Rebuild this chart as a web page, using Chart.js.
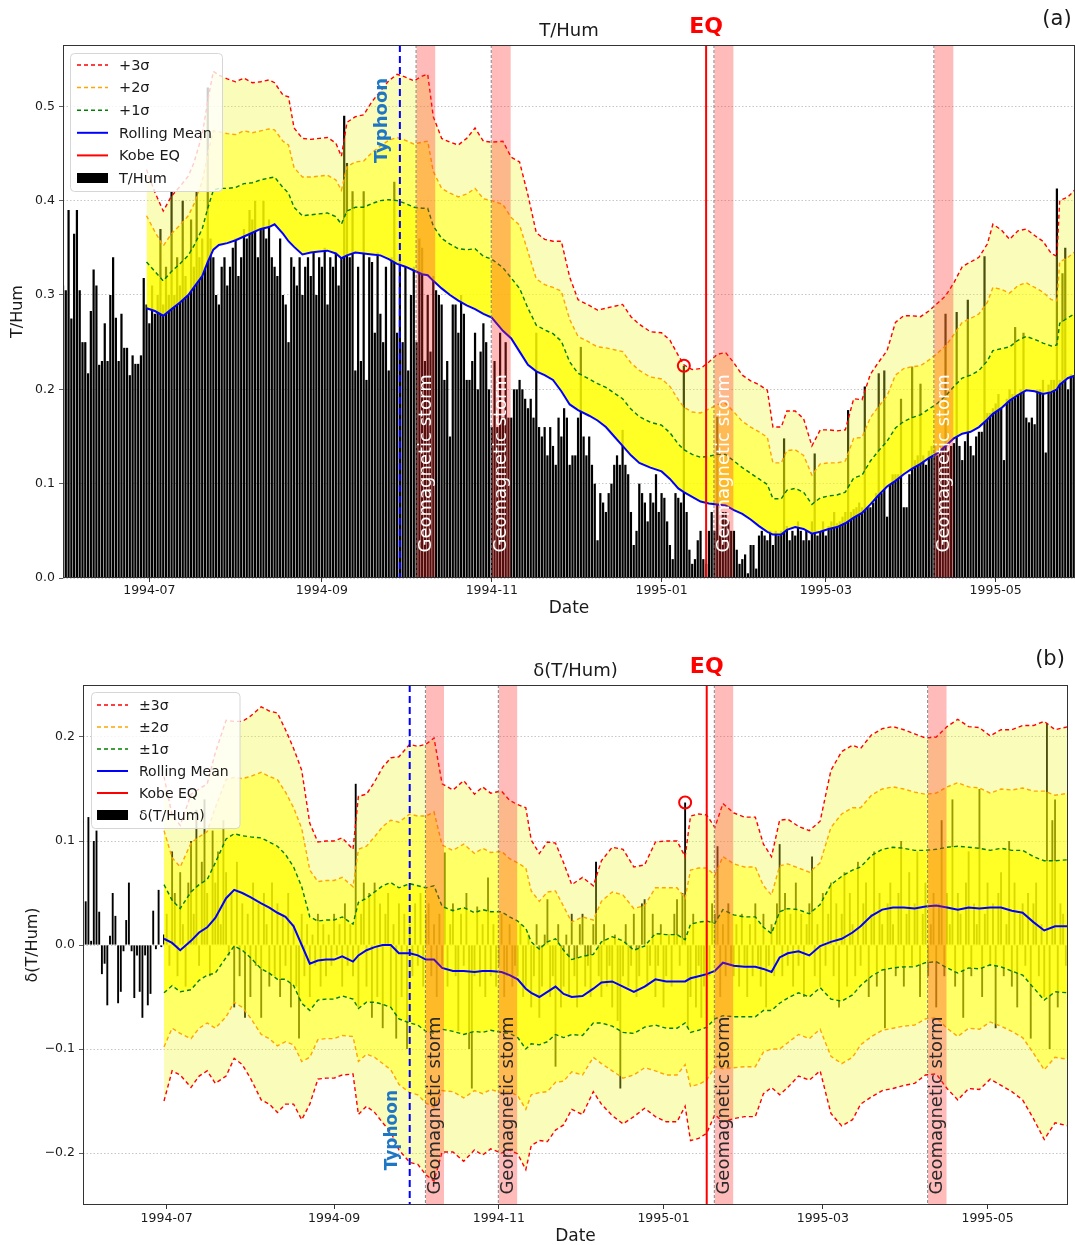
<!DOCTYPE html>
<html>
<head>
<meta charset="utf-8">
<script src="https://cdn.jsdelivr.net/npm/chart.js@4.4.0/dist/chart.umd.min.js"></script>
<style>
  body { margin: 0; background: #fff; }
  #wrap { position: relative; width: 1075px; height: 1245px; }
  canvas { position: absolute; left: 0; }
</style>
</head>
<body>
<div id="wrap">
  <canvas id="chartA" width="1075" height="625" style="top:0"></canvas>
  <canvas id="chartB" width="1075" height="620" style="top:625px"></canvas>
</div>
<script>
// day index 0 = 1994-05-31
var xTickIdx = [31, 93, 154, 215, 274, 335];
var xTickLabels = ["1994-07", "1994-09", "1994-11", "1995-01", "1995-03", "1995-05"];
var yTicksT = [0, 0.1, 0.2, 0.3, 0.4, 0.5];
var yTicksD = [-0.2, -0.1, 0, 0.1, 0.2];
var eqIdx = 231;       // Kobe EQ 1995-01-17
var typhoonIdx = 121;  // 1994-09-29
var markIdx = 223;     // circled value
var stormStart = [127, 154, 234, 313];
var stormEnd = [133.7, 160.8, 240.8, 319.8];
var legendT = ["+3σ", "+2σ", "+1σ", "Rolling Mean", "Kobe EQ", "T/Hum"];
var legendD = ["±3σ", "±2σ", "±1σ", "Rolling Mean", "Kobe EQ", "δ(T/Hum)"];

// (a) daily T/Hum
var barsT = [
  0.31, 0.305, 0.39, 0.275, 0.365, 0.39, 0.305, 0.25, 0.25, 0.217,
  0.283, 0.327, 0.31, 0.226, 0.23, 0.27, 0.23, 0.30, 0.34, 0.276,
  0.23, 0.28, 0.244, 0.244, 0.215, 0.236, 0.227, 0.227, 0.236, 0.318,
  0.29, 0.27, 0.31, 0.28, 0.30, 0.37, 0.29, 0.33, 0.30, 0.41,
  0.30, 0.34, 0.31, 0.40, 0.32, 0.30, 0.38, 0.33, 0.41, 0.34,
  0.36, 0.33, 0.52, 0.36, 0.34, 0.30, 0.29, 0.33, 0.34, 0.31,
  0.33, 0.35, 0.36, 0.32, 0.34, 0.37, 0.36, 0.39, 0.38, 0.40,
  0.34, 0.37, 0.40, 0.36, 0.38, 0.34, 0.33, 0.32, 0.36, 0.30,
  0.29, 0.25, 0.34, 0.33, 0.31, 0.34, 0.30, 0.33, 0.34, 0.32,
  0.345, 0.30, 0.34, 0.33, 0.35, 0.29, 0.34, 0.33, 0.345, 0.31,
  0.34, 0.49, 0.44, 0.34, 0.41, 0.22, 0.33, 0.23, 0.41, 0.21,
  0.34, 0.335, 0.26, 0.345, 0.28, 0.25, 0.33, 0.22, 0.34, 0.42,
  0.26, 0.34, 0.25, 0.33, 0.22, 0.30, 0.33, 0.25, 0.36, 0.35,
  0.23, 0.30, 0.24, 0.32, 0.305, 0.30, 0.29, 0.21, 0.23, 0.15,
  0.29, 0.29, 0.26, 0.30, 0.28, 0.21, 0.21, 0.23, 0.26, 0.20,
  0.24, 0.27, 0.25, 0.20, 0.16, 0.23, 0.16, 0.26, 0.17, 0.25,
  0.17, 0.17, 0.20, 0.20, 0.21, 0.20, 0.19, 0.18, 0.19, 0.17,
  0.26, 0.16, 0.15, 0.16, 0.13, 0.16, 0.14, 0.12, 0.17, 0.15,
  0.18, 0.17, 0.12, 0.13, 0.13, 0.17, 0.245, 0.15, 0.13, 0.15,
  0.12, 0.10, 0.04, 0.09, 0.08, 0.07, 0.09, 0.10, 0.12, 0.13,
  0.12, 0.157, 0.12, 0.11, 0.07, 0.035, 0.05, 0.10, 0.09, 0.08,
  0.06, 0.09, 0.08, 0.11, 0.07, 0.09, 0.085, 0.06, 0.035, 0.02,
  0.09, 0.085, 0.08, 0.225, 0.07, 0.03, 0.015, 0.02, 0.04, 0.05,
  0.02, 0.015, 0.05, 0.07, 0.05, 0.171, 0.045, 0.07, 0.07, 0.06,
  0.05, 0.05, 0.03, 0.015, 0.02, 0.025, 0.005, 0.035, 0.035, 0.01,
  0.045, 0.05, 0.045, 0.04, 0.05, 0.035, 0.05, 0.045, 0.05, 0.148,
  0.055, 0.04, 0.05, 0.045, 0.06, 0.05, 0.04, 0.05, 0.04, 0.06,
  0.132, 0.045, 0.05, 0.06, 0.045, 0.055, 0.06, 0.07, 0.058, 0.06,
  0.065, 0.07, 0.178, 0.07, 0.073, 0.075, 0.08, 0.075, 0.203, 0.075,
  0.075, 0.08, 0.09, 0.217, 0.09, 0.22, 0.065, 0.10, 0.11, 0.11,
  0.11, 0.19, 0.075, 0.075, 0.11, 0.224, 0.125, 0.13, 0.206, 0.13,
  0.12, 0.135, 0.14, 0.14, 0.13, 0.14, 0.14, 0.28, 0.135, 0.14,
  0.143, 0.282, 0.14, 0.125, 0.145, 0.295, 0.14, 0.13, 0.15, 0.155,
  0.155, 0.341, 0.175, 0.175, 0.18, 0.185, 0.195, 0.18, 0.125, 0.19,
  0.20, 0.195, 0.266, 0.195, 0.20, 0.26, 0.17, 0.165, 0.17, 0.163,
  0.20, 0.20, 0.21, 0.133, 0.205, 0.21, 0.21, 0.413, 0.21, 0.323,
  0.35, 0.20, 0.216, 0.215, 0.21
];

// (a) 30-day rolling mean and sigma, read at these day indices
var sampT = [30, 33, 36, 39, 42, 45, 47, 50, 52, 54, 56, 59, 62, 65, 68, 71, 74, 76, 79, 81,
  83, 86, 89, 92, 95, 98, 100, 102, 105, 108, 111, 114, 117, 120, 123, 126, 129, 131, 133, 136,
  139, 142, 145, 148, 151, 154, 158, 161, 164, 167, 170, 173, 176, 179, 182, 185, 189, 192, 195, 198,
  201, 204, 207, 211, 215, 218, 221, 223, 226, 229, 232, 235, 238, 241, 244, 247, 250, 253, 255, 258,
  260, 263, 266, 269, 272, 275, 278, 281, 284, 287, 290, 293, 296, 299, 302, 305, 308, 311, 314, 317,
  320, 323, 326, 329, 332, 334, 337, 340, 343, 346, 349, 352, 355, 357, 358, 361, 364];
var meanT = [0.286, 0.283, 0.278, 0.285, 0.292, 0.300, 0.308, 0.320, 0.335, 0.348, 0.353, 0.355, 0.358, 0.362, 0.366, 0.370, 0.372, 0.375, 0.365, 0.357,
  0.351, 0.343, 0.345, 0.346, 0.347, 0.344, 0.339, 0.342, 0.345, 0.344, 0.343, 0.342, 0.338, 0.333, 0.330, 0.326, 0.322, 0.321, 0.315, 0.307,
  0.300, 0.294, 0.289, 0.285, 0.280, 0.276, 0.262, 0.254, 0.240, 0.226, 0.219, 0.215, 0.210, 0.198, 0.184, 0.178, 0.172, 0.167, 0.160, 0.150,
  0.140, 0.130, 0.122, 0.117, 0.113, 0.105, 0.095, 0.091, 0.086, 0.081, 0.079, 0.078, 0.077, 0.072, 0.068, 0.062, 0.055, 0.049, 0.046, 0.046,
  0.051, 0.054, 0.052, 0.047, 0.049, 0.052, 0.054, 0.058, 0.064, 0.069, 0.078, 0.088, 0.097, 0.103, 0.110, 0.116, 0.121, 0.127, 0.132, 0.140,
  0.148, 0.153, 0.155, 0.160, 0.168, 0.174, 0.180, 0.188, 0.194, 0.199, 0.198, 0.195, 0.197, 0.200, 0.205, 0.212, 0.215];
var sigT = [0.049, 0.042, 0.037, 0.040, 0.041, 0.042, 0.044, 0.050, 0.057, 0.063, 0.060, 0.058, 0.056, 0.056, 0.053, 0.052, 0.052, 0.050, 0.049, 0.051,
  0.042, 0.041, 0.040, 0.040, 0.040, 0.039, 0.036, 0.047, 0.048, 0.049, 0.054, 0.058, 0.063, 0.067, 0.067, 0.067, 0.070, 0.071, 0.058, 0.053,
  0.054, 0.055, 0.059, 0.064, 0.061, 0.062, 0.067, 0.064, 0.067, 0.060, 0.049, 0.048, 0.049, 0.053, 0.045, 0.039, 0.039, 0.039, 0.042, 0.046,
  0.050, 0.049, 0.049, 0.048, 0.049, 0.049, 0.047, 0.045, 0.045, 0.047, 0.050, 0.053, 0.054, 0.052, 0.049, 0.049, 0.050, 0.050, 0.038, 0.038,
  0.042, 0.041, 0.039, 0.031, 0.036, 0.035, 0.034, 0.033, 0.042, 0.040, 0.046, 0.047, 0.048, 0.056, 0.056, 0.054, 0.052, 0.052, 0.053, 0.053,
  0.055, 0.059, 0.060, 0.060, 0.062, 0.067, 0.063, 0.057, 0.058, 0.057, 0.055, 0.054, 0.049, 0.047, 0.065, 0.064, 0.066];

// (b) daily change δ(T/Hum)
var barsD = [
  0.053, 0.042, 0.123, 0.004, 0.100, 0.110, 0.032, -0.028, -0.018, -0.058,
  0.009, 0.050, 0.028, -0.056, -0.045, -0.006, 0.024, 0.060, -0.006, -0.051,
  -0.010, -0.045, -0.070, -0.010, -0.058, -0.047, 0.033, -0.004, 0.053, -0.002,
  0.010,
  0.03, -0.02, 0.09, 0.05, -0.03, 0.07, 0.02, -0.04, 0.06, 0.10,
  0.03, 0.13, -0.02, 0.08, 0.14, 0.05, -0.03, 0.11, 0.06, 0.09,
  0.02, 0.12, 0.07, -0.01, 0.05, -0.06, 0.08, -0.03, 0.04, -0.07,
  0.03, -0.05, 0.06, -0.02, 0.04, -0.07, 0.05, 0.02, -0.04, 0.06,
  -0.03, 0.04, -0.05, 0.03, -0.02, 0.05, -0.06, 0.02, -0.04, -0.09,
  0.03, -0.03, 0.02, -0.05, 0.01, -0.02, 0.03, -0.04, 0.02, -0.03,
  0.01, -0.02, 0.03, -0.01, 0.02, -0.04, 0.04, -0.02, 0.02, -0.03,
  0.155, -0.06, 0.03, 0.06, -0.04, 0.05, -0.07, 0.06, -0.05, 0.04,
  -0.08, 0.03, 0.05, -0.06, 0.02, -0.09, 0.04, -0.05, 0.03, -0.10,
  0.02, -0.03, 0.04, -0.02, 0.05, -0.04, 0.03, 0.04, -0.03, 0.02,
  -0.05, 0.03, -0.02, 0.089, -0.04, 0.02, 0.04, -0.03, -0.083, 0.03,
  -0.02, 0.05, -0.10, -0.138, -0.03, 0.037, -0.04, 0.02, -0.05, 0.065,
  -0.03, 0.02, -0.04, -0.02, 0.03, -0.05, -0.03, 0.02, -0.04, -0.02,
  -0.03, 0.02, -0.05, -0.04, 0.01, -0.06, -0.03, 0.02, -0.07, -0.04,
  0.01, 0.044, -0.05, -0.03, -0.117, 0.02, -0.06, -0.04, 0.01, -0.05,
  0.03, -0.03, -0.06, 0.02, 0.03, -0.04, -0.02, -0.05, 0.02, 0.08,
  -0.03, -0.05, 0.02, -0.04, -0.02, -0.06, 0.01, -0.073, -0.138, -0.03,
  0.02, -0.04, -0.02, 0.03, -0.05, -0.03, 0.04, 0.044, -0.04, -0.02,
  0.03, -0.05, -0.02, 0.02, -0.06, -0.03, 0.01, -0.04, 0.03, 0.044,
  -0.02, 0.05, 0.137, -0.08, -0.05, 0.03, -0.06, -0.02, -0.07, -0.04,
  0.02, -0.03, 0.04, 0.03, 0.095, -0.05, 0.02, -0.03, 0.04, -0.02,
  -0.03, 0.02, -0.04, 0.03, -0.02, -0.05, 0.02, -0.03, 0.04, -0.02,
  -0.04, 0.03, -0.06, -0.02, 0.02, -0.03, 0.04, 0.097, -0.03, 0.05,
  -0.02, 0.03, -0.04, 0.06, -0.02, 0.03, -0.05, 0.02, 0.04, 0.085,
  -0.03, 0.02, -0.04, 0.05, -0.02, 0.03, 0.06, -0.03, 0.04, -0.06,
  0.03, 0.07, -0.04, 0.05, 0.02, -0.03, 0.08, -0.02, 0.04, 0.06,
  -0.05, 0.03, 0.09, -0.04, 0.05, 0.02, -0.08, 0.04, 0.06, 0.02,
  -0.03, 0.05, 0.10, -0.04, 0.03, 0.07, -0.02, 0.04, 0.09, -0.05,
  0.03, 0.06, -0.03, 0.02, 0.05, -0.06, 0.04, 0.12, -0.03, 0.05,
  0.02, 0.14, -0.04, 0.05, 0.03, -0.07, 0.06, 0.09, -0.03, 0.04,
  0.02, 0.15, -0.05, 0.03, 0.06, -0.02, 0.04, -0.08, 0.05, 0.07,
  -0.03, 0.02, 0.10, -0.04, 0.06, -0.06, 0.03, 0.04, -0.02, 0.05,
  -0.09, 0.04, 0.06, -0.03, 0.02, -0.05, 0.213, -0.10, 0.12, 0.14,
  -0.06, 0.04, 0.03, -0.02, 0.05
];

var sampD = [30, 33, 36, 40, 43, 46, 49, 53, 56, 59, 62, 66, 69, 72, 75, 78, 81, 84, 87, 90,
  93, 96, 100, 102, 105, 108, 111, 114, 117, 121, 124, 127, 130, 133, 137, 141, 145, 148, 151, 155,
  158, 161, 164, 166, 169, 172, 175, 178, 181, 185, 189, 192, 196, 200, 204, 208, 212, 216, 220, 223,
  225, 228, 231, 234, 237, 241, 245, 249, 252, 255, 258, 261, 265, 269, 273, 277, 281, 285, 288, 292,
  296, 300, 304, 308, 312, 316, 320, 324, 328, 332, 336, 340, 344, 348, 352, 356, 360, 365];
var meanD = [0.006, 0.002, -0.005, 0.004, 0.012, 0.017, 0.026, 0.045, 0.053, 0.050, 0.046, 0.040, 0.036, 0.031, 0.027, 0.018, 0.000, -0.018, -0.015, -0.014,
  -0.014, -0.011, -0.016, -0.010, -0.005, -0.002, 0.000, 0.000, -0.008, -0.008, -0.010, -0.014, -0.014, -0.022, -0.025, -0.025, -0.026, -0.025, -0.025, -0.026,
  -0.029, -0.033, -0.042, -0.046, -0.050, -0.045, -0.040, -0.047, -0.050, -0.049, -0.042, -0.036, -0.035, -0.040, -0.045, -0.040, -0.033, -0.035, -0.035, -0.035,
  -0.032, -0.030, -0.028, -0.025, -0.017, -0.020, -0.021, -0.021, -0.023, -0.026, -0.012, -0.008, -0.006, -0.010, -0.001, 0.003, 0.006, 0.012, 0.018, 0.028,
  0.034, 0.036, 0.036, 0.035, 0.037, 0.038, 0.036, 0.034, 0.036, 0.035, 0.036, 0.036, 0.033, 0.031, 0.022, 0.014, 0.018, 0.018];
var sigD = [0.052, 0.041, 0.040, 0.047, 0.046, 0.046, 0.053, 0.057, 0.054, 0.055, 0.058, 0.063, 0.063, 0.064, 0.060, 0.057, 0.056, 0.045, 0.038, 0.038,
  0.038, 0.038, 0.036, 0.051, 0.050, 0.053, 0.057, 0.060, 0.063, 0.067, 0.067, 0.069, 0.071, 0.059, 0.058, 0.061, 0.057, 0.059, 0.057, 0.058,
  0.056, 0.056, 0.058, 0.049, 0.046, 0.048, 0.046, 0.042, 0.036, 0.038, 0.033, 0.039, 0.043, 0.044, 0.040, 0.039, 0.044, 0.045, 0.045, 0.040,
  0.052, 0.052, 0.051, 0.046, 0.051, 0.049, 0.048, 0.048, 0.040, 0.037, 0.044, 0.043, 0.040, 0.040, 0.040, 0.055, 0.060, 0.060, 0.057, 0.058,
  0.058, 0.058, 0.057, 0.056, 0.054, 0.054, 0.058, 0.061, 0.058, 0.058, 0.055, 0.057, 0.058, 0.060, 0.063, 0.067, 0.063, 0.064];

var FONT = "'DejaVu Sans', sans-serif";
var Y_IN = "rgba(255,255,0,0.85)";
var Y_MID = "rgba(255,255,0,0.6)";
var Y_OUT = "rgba(240,245,40,0.32)";

function band(samp, mean, sig, k) {
  return samp.map(function (d, j) { return { x: d, y: mean[j] + k * sig[j] }; });
}
function barPoints(vals) {
  return vals.map(function (v, i) { return { x: i, y: v }; });
}
function fmtTick(v) {
  if (Math.abs(v) < 1e-9) v = 0;
  return v.toFixed(1).replace("-", "\u2212");
}
function lineDs(data, color, dashed, fill) {
  return {
    type: "line", data: data, borderColor: color, borderWidth: dashed ? 1.4 : 2,
    borderDash: dashed ? [4, 3] : [], pointRadius: 0, tension: 0, fill: fill, order: 1
  };
}
function rotText(ctx, txt, x, y, font, color, align, base) {
  ctx.save();
  ctx.translate(x, y);
  ctx.rotate(-Math.PI / 2);
  ctx.font = font;
  ctx.fillStyle = color;
  ctx.textAlign = align;
  ctx.textBaseline = base;
  ctx.fillText(txt, 0, 0);
  ctx.restore();
}
function drawLegend(ctx, labels, colors, kinds, g) {
  ctx.save();
  ctx.beginPath();
  ctx.roundRect(g.x, g.y, g.w, g.h, 4);
  ctx.fillStyle = "rgba(255,255,255,0.8)";
  ctx.fill();
  ctx.strokeStyle = "#d6d6d6";
  ctx.lineWidth = 1;
  ctx.stroke();
  labels.forEach(function (lab, k) {
    var yy = g.row0 + k * g.rowH;
    if (kinds[k] === "box") {
      ctx.fillStyle = colors[k];
      ctx.fillRect(g.lx0, yy - 5, g.lx1 - g.lx0, 10);
    } else {
      ctx.strokeStyle = colors[k];
      ctx.lineWidth = kinds[k] === "dash" ? 1.5 : 2;
      ctx.setLineDash(kinds[k] === "dash" ? [4, 3] : []);
      ctx.beginPath();
      ctx.moveTo(g.lx0, yy);
      ctx.lineTo(g.lx1, yy);
      ctx.stroke();
      ctx.setLineDash([]);
    }
    ctx.fillStyle = "#1a1a1a";
    ctx.font = g.font;
    ctx.textAlign = "left";
    ctx.textBaseline = "middle";
    ctx.fillText(lab, g.tx, yy + 1);
  });
  ctx.restore();
}

function decor(o) {
  return {
    id: "decor" + o.tag,
    afterDatasetsDraw: function (chart) {
      var ctx = chart.ctx, a = chart.chartArea, x = chart.scales.x, y = chart.scales.y;
      ctx.save();
      ctx.beginPath();
      ctx.rect(a.left, a.top, a.right - a.left, a.bottom - a.top);
      ctx.clip();
      // geomagnetic storm spans
      stormStart.forEach(function (s, k) {
        var x0 = x.getPixelForValue(s), x1 = x.getPixelForValue(stormEnd[k]);
        ctx.fillStyle = "rgba(255,40,40,0.32)";
        ctx.fillRect(x0, a.top, x1 - x0, a.bottom - a.top);
        ctx.strokeStyle = "rgba(120,120,120,0.9)";
        ctx.lineWidth = 1;
        ctx.setLineDash([3, 2]);
        ctx.beginPath();
        ctx.moveTo(x0 - 0.5, a.top);
        ctx.lineTo(x0 - 0.5, a.bottom);
        ctx.stroke();
        ctx.setLineDash([]);
        rotText(ctx, "Geomagnetic storm", (x0 + x1) / 2, y.getPixelForValue(o.stormY),
          "18px " + FONT, o.stormColor, "left", "middle");
      });
      // typhoon
      var xt = x.getPixelForValue(typhoonIdx);
      ctx.strokeStyle = "#0000ff";
      ctx.lineWidth = 2;
      ctx.setLineDash([7, 4]);
      ctx.beginPath();
      ctx.moveTo(xt, a.top);
      ctx.lineTo(xt, a.bottom);
      ctx.stroke();
      ctx.setLineDash([]);
      rotText(ctx, "Typhoon", xt - 9, y.getPixelForValue(o.typhoonY), "bold " + o.typhoonSize + "px " + FONT,
        "#1f77c4", "center", "bottom");
      // Kobe EQ
      var xe = x.getPixelForValue(eqIdx);
      ctx.strokeStyle = "#ff0000";
      ctx.lineWidth = 2;
      ctx.beginPath();
      ctx.moveTo(xe, a.top);
      ctx.lineTo(xe, a.bottom);
      ctx.stroke();
      // circled value
      ctx.beginPath();
      ctx.arc(x.getPixelForValue(markIdx), y.getPixelForValue(o.bars[markIdx]), 6, 0, Math.PI * 2);
      ctx.strokeStyle = "#ff0000";
      ctx.lineWidth = 2;
      ctx.stroke();
      ctx.restore();
    },
    afterDraw: function (chart) {
      var ctx = chart.ctx, a = chart.chartArea, x = chart.scales.x;
      ctx.save();
      ctx.strokeStyle = "#333";
      ctx.lineWidth = 1;
      ctx.strokeRect(a.left + 0.5, a.top + 0.5, a.right - a.left - 1, a.bottom - a.top - 1);
      ctx.fillStyle = "#1a1a1a";
      ctx.font = "18px " + FONT;
      ctx.textAlign = "center";
      ctx.textBaseline = "middle";
      ctx.fillText(o.title, (a.left + a.right) / 2, a.top - 14);
      ctx.font = "17px " + FONT;
      ctx.fillText("Date", (a.left + a.right) / 2, o.dateY);
      ctx.font = "21px " + FONT;
      ctx.fillText(o.panel, o.panelX, o.panelY);
      ctx.fillStyle = "#ff0000";
      ctx.font = "bold 22px " + FONT;
      ctx.fillText("EQ", x.getPixelForValue(eqIdx), a.top - 18);
      ctx.restore();
      rotText(ctx, o.ylabel, o.ylabelX, (a.top + a.bottom) / 2, "16px " + FONT, "#1a1a1a", "center", "middle");
      drawLegend(ctx, o.legend, ["#ff0000", "#ffa500", "#008000", "#0000ff", "#ff0000", "#000"],
        ["dash", "dash", "dash", "line", "line", "box"], o.lg);
    }
  };
}

function scalesFor(o) {
  return {
    x: {
      type: "linear", min: o.xmin, max: o.xmax, offset: false,
      afterBuildTicks: function (s) { s.ticks = xTickIdx.map(function (v) { return { value: v }; }); },
      afterFit: function (s) { s.height = o.xh; s.paddingLeft = 0; s.paddingRight = 0; },
      ticks: {
        autoSkip: false, maxRotation: 0, padding: o.xpad, color: "#1a1a1a",
        font: { family: FONT, size: 12.5 },
        callback: function (v) { var k = xTickIdx.indexOf(v); return k >= 0 ? xTickLabels[k] : ""; }
      },
      grid: { offset: false, drawOnChartArea: false, drawTicks: true, tickLength: 4, tickColor: "#333" },
      border: { display: false }
    },
    y: {
      min: o.ymin, max: o.ymax,
      afterBuildTicks: function (s) { s.ticks = o.yticks.map(function (v) { return { value: v }; }); },
      afterFit: function (s) { s.width = o.yw; s.paddingTop = 0; s.paddingBottom = 0; },
      ticks: {
        padding: 4, color: "#1a1a1a", font: { family: FONT, size: 12.5 },
        callback: function (v) { return fmtTick(v); }
      },
      grid: { offset: false, color: "rgba(0,0,0,0.28)", lineWidth: 0.8, drawTicks: true, tickLength: 4, tickColor: "#333", tickBorderDash: [] },
      border: { display: false, dash: [1.5, 2] }
    }
  };
}

// (a)
var optA = {
  tag: "A", bars: barsT, title: "T/Hum", panel: "(a)", panelX: 1057, panelY: 20, dateY: 609,
  ylabel: "T/Hum", ylabelX: 18, stormY: 0.027, stormColor: "#ffffff", typhoonY: 0.485, typhoonSize: 18,
  legend: legendT,
  lg: { x: 70.5, y: 53.5, w: 152, h: 138, row0: 65, rowH: 22.6, lx0: 77, lx1: 108, tx: 119, font: "14.5px " + FONT },
  xmin: 0, xmax: 363.5, xh: 47, xpad: 1, ymin: 0, ymax: 0.565, yw: 63, yticks: yTicksT
};
new Chart(document.getElementById("chartA").getContext("2d"), {
  type: "bar",
  data: {
    datasets: [
      lineDs(band(sampT, meanT, sigT, 0), "#0000ff", false, false),
      lineDs(band(sampT, meanT, sigT, 1), "#008000", true, { target: 0, above: Y_IN, below: Y_IN }),
      lineDs(band(sampT, meanT, sigT, 2), "#ffa500", true, { target: 1, above: Y_MID, below: Y_MID }),
      lineDs(band(sampT, meanT, sigT, 3), "#ff0000", true, { target: 2, above: Y_OUT, below: Y_OUT }),
      { type: "bar", data: barPoints(barsT), backgroundColor: "#000", barPercentage: 0.8, categoryPercentage: 1, order: 10 }
    ]
  },
  options: {
    responsive: false, animation: false,
    layout: { padding: { top: 45, left: 0, right: 0, bottom: 0 } },
    plugins: { legend: { display: false }, tooltip: { enabled: false } },
    scales: scalesFor(optA)
  },
  plugins: [decor(optA)]
});

// (b)
var optB = {
  tag: "B", bars: barsD, title: "δ(T/Hum)", panel: "(b)", panelX: 1050, panelY: 35, dateY: 612,
  ylabel: "δ(T/Hum)", ylabelX: 33, stormY: -0.24, stormColor: "#2a2a2a", typhoonY: -0.178, typhoonSize: 17,
  legend: legendD,
  lg: { x: 91.5, y: 67.5, w: 148.5, h: 136, row0: 80, rowH: 22, lx0: 97, lx1: 128, tx: 139, font: "14px " + FONT },
  xmin: 0, xmax: 364.8, xh: 40, xpad: 2, ymin: -0.25, ymax: 0.25, yw: 83, yticks: yTicksD
};
new Chart(document.getElementById("chartB").getContext("2d"), {
  type: "bar",
  data: {
    datasets: [
      lineDs(band(sampD, meanD, sigD, 0), "#0000ff", false, false),
      lineDs(band(sampD, meanD, sigD, 1), "#008000", true, { target: 0, above: Y_IN, below: Y_IN }),
      lineDs(band(sampD, meanD, sigD, -1), "#008000", true, { target: 0, above: Y_IN, below: Y_IN }),
      lineDs(band(sampD, meanD, sigD, 2), "#ffa500", true, { target: 1, above: Y_MID, below: Y_MID }),
      lineDs(band(sampD, meanD, sigD, -2), "#ffa500", true, { target: 2, above: Y_MID, below: Y_MID }),
      lineDs(band(sampD, meanD, sigD, 3), "#ff0000", true, { target: 3, above: Y_OUT, below: Y_OUT }),
      lineDs(band(sampD, meanD, sigD, -3), "#ff0000", true, { target: 4, above: Y_OUT, below: Y_OUT }),
      { type: "bar", data: barPoints(barsD), backgroundColor: "#000", barPercentage: 0.7, categoryPercentage: 1, order: 10 }
    ]
  },
  options: {
    responsive: false, animation: false,
    layout: { padding: { top: 60, left: 0, right: 7, bottom: 0 } },
    plugins: { legend: { display: false }, tooltip: { enabled: false } },
    scales: scalesFor(optB)
  },
  plugins: [decor(optB)]
});
</script>
</body>
</html>
